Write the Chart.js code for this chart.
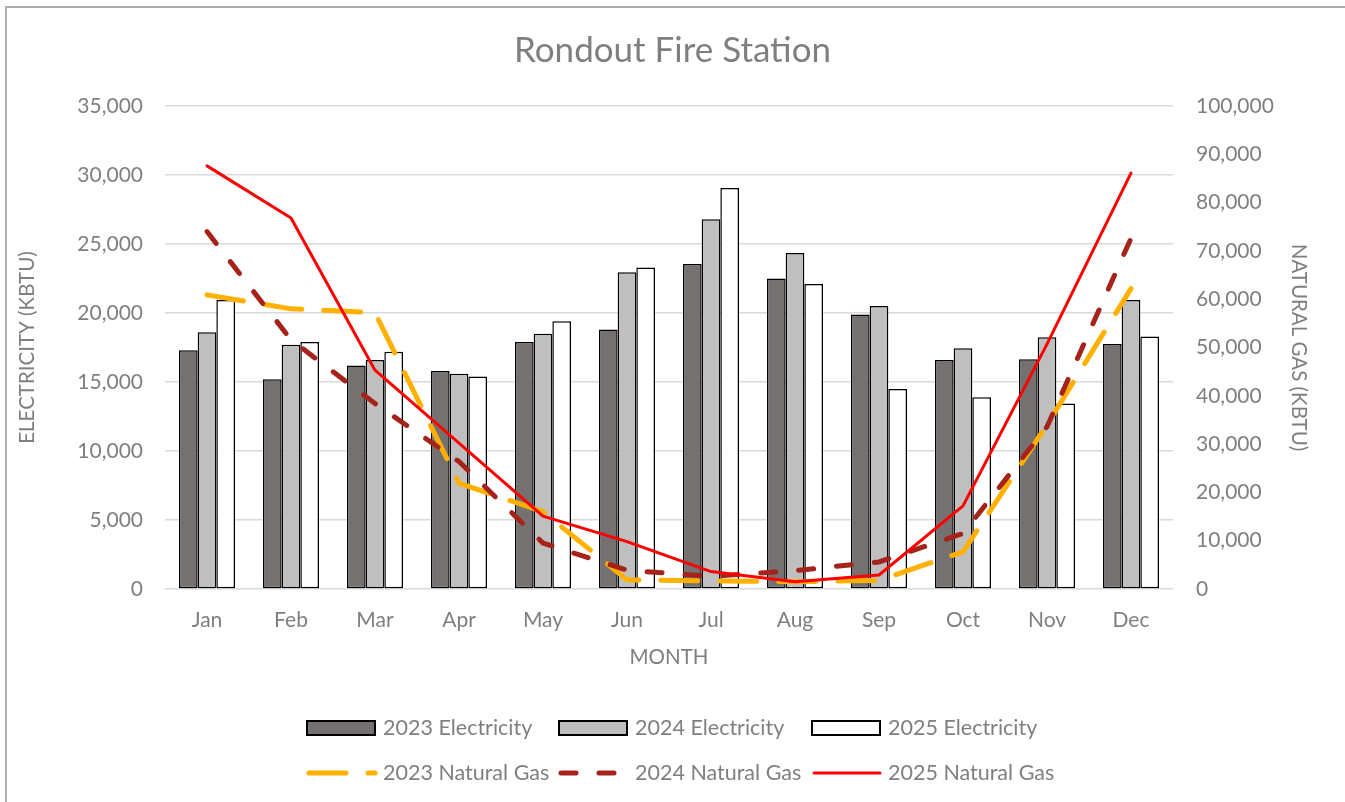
<!DOCTYPE html>
<html>
<head>
<meta charset="utf-8">
<script src="https://cdn.jsdelivr.net/npm/chart.js@4.4.1/dist/chart.umd.min.js"></script>
<style>
  html, body { margin: 0; padding: 0; background: #ffffff; }
  #wrap { position: relative; width: 1345px; height: 802px; overflow: hidden; }
  #frame { position: absolute; left: 5px; top: 6px; width: 1400px; height: 900px; border-left: 2px solid #ababab; border-top: 2px solid #ababab; pointer-events: none; }
  canvas { position: absolute; left: 0; top: 0; }
</style>
</head>
<body>
<div id="wrap">
  <canvas id="c" width="1345" height="802"></canvas>
  <div id="frame"></div>
</div>
<script>
const months = ['Jan', 'Feb', 'Mar', 'Apr', 'May', 'Jun', 'Jul', 'Aug', 'Sep', 'Oct', 'Nov', 'Dec'];

const elec2023 = [17300, 15200, 16200, 15800, 17900, 18800, 23550, 22500, 19900, 16600, 16650, 17750];
const elec2024 = [18600, 17700, 16600, 15600, 18500, 22950, 26800, 24350, 20500, 17450, 18250, 20950];
const elec2025 = [20950, 17900, 17200, 15400, 19400, 23300, 29050, 22100, 14500, 13900, 13450, 18300];

const gas2023 = [60900, 58000, 57200, 21900, 16000, 1900, 1700, 1500, 1800, 7700, 34000, 62200];
const gas2024 = [74000, 51600, 38400, 26400, 9500, 3900, 2600, 3800, 5600, 11500, 33600, 72600];
const gas2025 = [87600, 76800, 45300, 30200, 15100, 9800, 3600, 1500, 2900, 17200, 50700, 86100];

const elecTicks = { min: 0, max: 35000, step: 5000 };
const gasTicks = { min: 0, max: 100000, step: 10000 };

const FONT = 'Lato';
const TXT = '#7f7f7f';

const fmt = v => Number(v).toLocaleString('en-US');

const legendPlugin = {
  id: 'customLegend',
  afterDraw(chart) {
    const ctx = chart.ctx;
    const ds = chart.data.datasets;
    const cols = [307, 559, 812];
    const rows = [728, 773];
    const sw = 68;
    ctx.save();
    ctx.font = '21.5px ' + FONT;
    ctx.fillStyle = TXT;
    ctx.textBaseline = 'middle';
    ctx.textAlign = 'left';
    for (let i = 0; i < ds.length; i++) {
      const d = ds[i];
      const row = i < 3 ? 0 : 1;
      const col = i % 3;
      const x = cols[col];
      const y = rows[row];
      if (d.type === 'bar') {
        ctx.fillStyle = d.backgroundColor;
        ctx.fillRect(x, y - 7, sw, 14);
        ctx.strokeStyle = '#000000';
        ctx.lineWidth = 2;
        ctx.strokeRect(x, y - 7, sw, 14);
      } else {
        ctx.strokeStyle = d.borderColor;
        ctx.lineWidth = d.borderWidth;
        ctx.lineCap = d.borderCapStyle || 'butt';
        ctx.setLineDash(d.borderDash || []);
        ctx.beginPath();
        ctx.moveTo(x + 2, y);
        ctx.lineTo(x + sw, y);
        ctx.stroke();
        ctx.setLineDash([]);
      }
      ctx.fillStyle = TXT;
      ctx.fillText(d.label, x + 76, y);
    }
    ctx.restore();
  }
};

const barCommon = { type: 'bar', yAxisID: 'y', borderColor: '#000000', borderWidth: 1.5, borderSkipped: false, order: 3, barPercentage: 1.0, categoryPercentage: 0.667 };
const lineCommon = { type: 'line', yAxisID: 'y1', pointRadius: 0, pointHoverRadius: 0, tension: 0, fill: false };

new Chart(document.getElementById('c'), {
  data: {
    labels: months,
    datasets: [
      Object.assign({}, barCommon, { label: '2023 Electricity', data: elec2023, backgroundColor: '#767171' }),
      Object.assign({}, barCommon, { label: '2024 Electricity', data: elec2024, backgroundColor: '#bfbfbf' }),
      Object.assign({}, barCommon, { label: '2025 Electricity', data: elec2025, backgroundColor: '#ffffff' }),
      Object.assign({}, lineCommon, { label: '2023 Natural Gas', data: gas2023, borderColor: '#ffb000', borderWidth: 5, borderDash: [37, 22], borderCapStyle: 'round', order: 2 }),
      Object.assign({}, lineCommon, { label: '2024 Natural Gas', data: gas2024, borderColor: '#a5231b', borderWidth: 5, borderDash: [15, 23], borderCapStyle: 'round', order: 1 }),
      Object.assign({}, lineCommon, { label: '2025 Natural Gas', data: gas2025, borderColor: '#ff0000', borderWidth: 3, borderCapStyle: 'round', borderJoinStyle: 'round', order: 0 })
    ]
  },
  options: {
    responsive: false,
    animation: false,
    events: [],
    layout: { padding: { left: 0, right: 0, top: 0, bottom: 123 } },
    plugins: {
      legend: { display: false },
      tooltip: { enabled: false },
      title: {
        display: true,
        text: 'Rondout Fire Station',
        color: TXT,
        font: { family: FONT, size: 35, weight: 'normal' },
        padding: { top: 30, bottom: 34 }
      }
    },
    scales: {
      x: {
        grid: { display: false },
        border: { display: false },
        ticks: { color: TXT, font: { family: FONT, size: 21 }, padding: 11, maxRotation: 0 },
        title: { display: true, text: 'MONTH', color: TXT, font: { family: FONT, size: 20.5 }, padding: { top: 4, bottom: 9 } },
        afterFit(s) { s.height = 90; }
      },
      y: {
        position: 'left',
        min: elecTicks.min,
        max: elecTicks.max,
        ticks: { stepSize: elecTicks.step, color: TXT, font: { family: FONT, size: 21 }, padding: 22, callback: fmt },
        grid: { color: '#d9d9d9', lineWidth: 1.5, drawTicks: false },
        border: { display: false },
        title: { display: true, text: 'ELECTRICITY (KBTU)', color: TXT, font: { family: FONT, size: 20.5 }, padding: { top: 15, bottom: 4 } },
        afterFit(s) { s.width = 165; }
      },
      y1: {
        position: 'right',
        min: gasTicks.min,
        max: gasTicks.max,
        ticks: { stepSize: gasTicks.step, color: TXT, font: { family: FONT, size: 21 }, padding: 23, callback: fmt },
        grid: { display: false, drawTicks: false },
        border: { display: false },
        title: { display: true, text: 'NATURAL GAS (KBTU)', color: TXT, font: { family: FONT, size: 20.5 }, padding: { top: 34, bottom: 4 } },
        afterFit(s) { s.width = 172; }
      }
    }
  },
  plugins: [legendPlugin]
});
</script>
</body>
</html>
